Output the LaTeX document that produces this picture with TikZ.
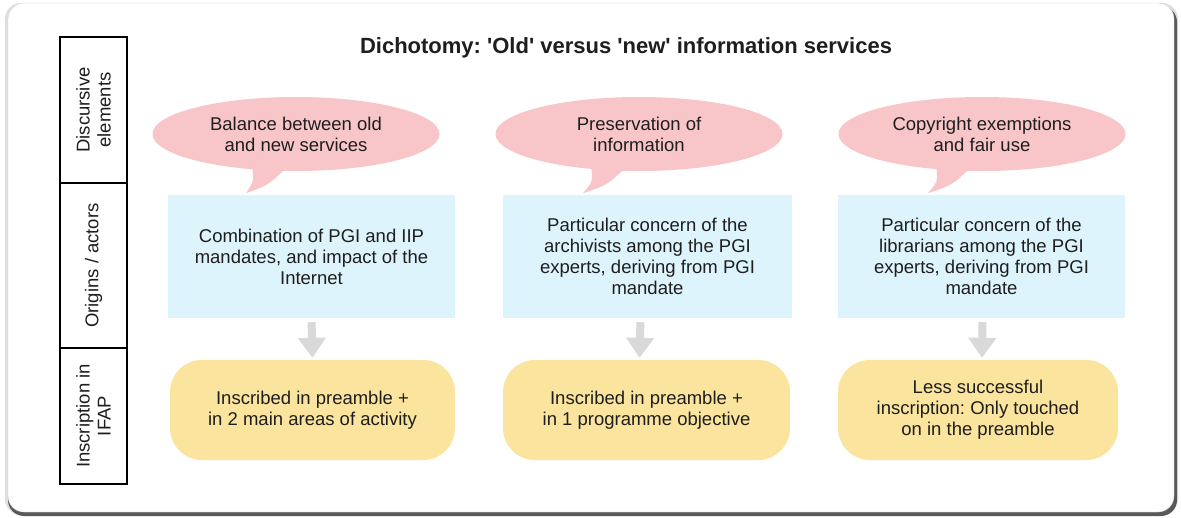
\documentclass[tikz,border=0pt]{standalone}
\usepackage{fontspec}
\setmainfont{Liberation Sans}
\usetikzlibrary{shapes.geometric,arrows.meta,calc}
\pgfdeclarelayer{background}
\pgfdeclarelayer{foreground}
\pgfsetlayers{background,main,foreground}
\frenchspacing
\definecolor{bubblepink}{HTML}{F8C6C9}
\definecolor{originblue}{HTML}{DEF4FC}
\definecolor{inscryellow}{HTML}{FBE49E}
\definecolor{arrowgray}{HTML}{D9D9D9}
\definecolor{textgray}{HTML}{1E1E1E}
\tikzset{
  rowlabel/.style={draw, line width=1.4pt, rotate=90, align=center, minimum height=67pt, inner sep=0pt, text=textgray, font=\fontsize{18.5}{21}\selectfont},
  bubble/.style={ellipse, fill=bubblepink, minimum width=287pt, minimum height=74pt, inner sep=0pt, align=center, text=textgray, font=\fontsize{18.5}{21}\selectfont},
  origin/.style={rectangle, fill=originblue, minimum height=123pt, inner sep=0pt, align=center, text=textgray, font=\fontsize{18.5}{21}\selectfont},
  inscr/.style={rectangle, rounded corners=32pt, fill=inscryellow, minimum height=100pt, inner sep=0pt, align=center, text=textgray, font=\fontsize{18.5}{21}\selectfont},
  fatarrow/.style={draw=arrowgray, line width=8pt, -{Triangle[width=27pt,length=20pt]}, shorten <=4pt, shorten >=2pt},
}

\begin{document}
\begin{tikzpicture}[x=1pt,y=-1pt]
\useasboundingbox (0,0) rectangle (1181,517);
\begin{pgfonlayer}{background}
\fill[white] (0,0) rectangle (1181,517);
\fill[gray!25, rounded corners=16pt] (5,3) rectangle (1178,515);
\fill[gray!70!black, rounded corners=16pt] (8,6) rectangle (1177,516);
\filldraw[fill=white, draw=gray!35, rounded corners=16pt] (8,3) rectangle (1174,512);
\end{pgfonlayer}

% row labels
\node[rowlabel, minimum width=146pt] (rdisc) at (93.5,110) {Discursive\\elements};
\node[rowlabel, minimum width=165pt] (rorig) at (93.5,265.5) {Origins / actors};
\node[rowlabel, minimum width=136pt] (rinscr) at (93.5,416) {Inscription in\\IFAP};

\node[font=\bfseries\fontsize{22}{24}\selectfont, text=textgray] (title) at (626,48) {Dichotomy: \textquotesingle Old\textquotesingle{} versus \textquotesingle new\textquotesingle{} information services};

% discursive elements
\node[bubble] (disc1) at (296,134) {Balance between old\\and new services};
\node[bubble] (disc2) at (639,134) {Preservation of\\information};
\node[bubble] (disc3) at (982,134) {Copyright exemptions\\and fair use};

\coordinate (tip1) at ($(disc1.south)+(-50,22)$);
\coordinate (tip2) at ($(disc2.south)+(-56,22)$);
\coordinate (tip3) at ($(disc3.south)+(-54,22)$);
\begin{pgfonlayer}{background}
\fill[bubblepink] ($(disc1.south)+(-44,-6)$) .. controls ($(disc1.south)+(-42,10)$) .. (tip1) .. controls ($(disc1.south)+(-28,14)$) .. ($(disc1.south)+(-10,-3)$) -- cycle;
\fill[bubblepink] ($(disc2.south)+(-48,-6)$) .. controls ($(disc2.south)+(-46,10)$) .. (tip2) .. controls ($(disc2.south)+(-32,14)$) .. ($(disc2.south)+(-14,-3)$) -- cycle;
\fill[bubblepink] ($(disc3.south)+(-46,-6)$) .. controls ($(disc3.south)+(-44,10)$) .. (tip3) .. controls ($(disc3.south)+(-30,14)$) .. ($(disc3.south)+(-12,-3)$) -- cycle;
\end{pgfonlayer}

% origins / actors
\node[origin, minimum width=287pt] (orig1) at (311.5,256.5) {Combination of PGI and IIP\\mandates, and impact of the\\Internet};
\node[origin, minimum width=289pt] (orig2) at (647.5,256.5) {Particular concern of the\\archivists among the PGI\\experts, deriving from PGI\\mandate};
\node[origin, minimum width=287pt] (orig3) at (981.5,256.5) {Particular concern of the\\librarians among the PGI\\experts, deriving from PGI\\mandate};

% inscription in IFAP
\node[inscr, minimum width=285pt] (ins1) at (312.5,410) {Inscribed in preamble +\\in 2 main areas of activity};
\node[inscr, minimum width=287pt] (ins2) at (646.5,410) {Inscribed in preamble +\\in 1 programme objective};
\node[inscr, minimum width=280pt] (ins3) at (978,410) {Less successful\\inscription: Only touched\\on in the preamble};

\draw[fatarrow] (orig1.south) -- (ins1.north);
\draw[fatarrow] ($(orig2.south)+(-7,0)$) -- ($(ins2.north)+(-7,0)$);
\draw[fatarrow] ($(orig3.south)+(1,0)$) -- ($(ins3.north)+(4,0)$);
\end{tikzpicture}
\end{document}
